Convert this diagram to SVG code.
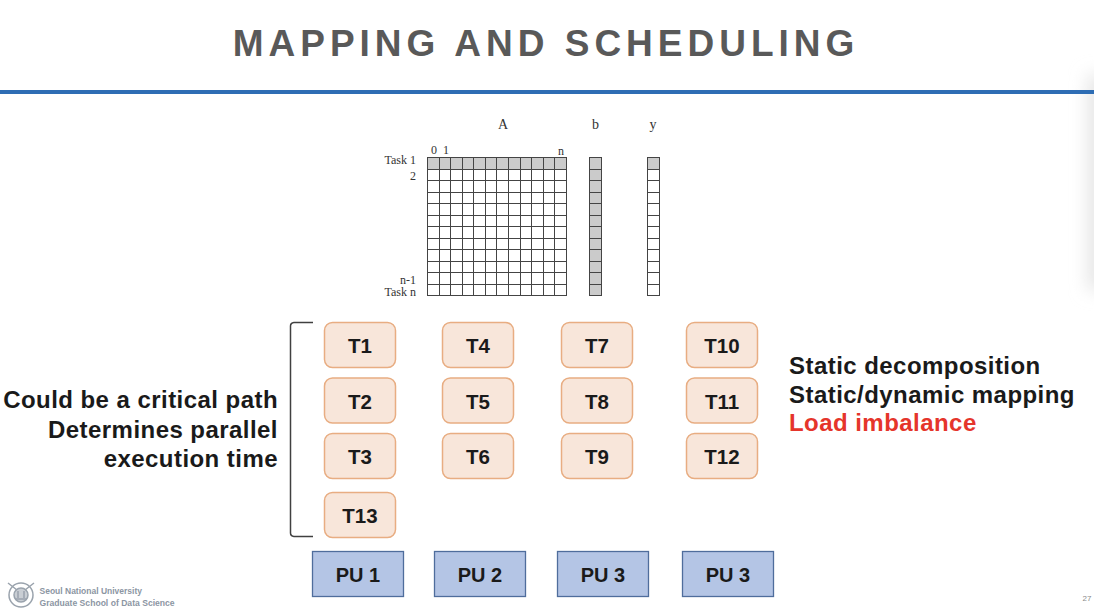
<svg xmlns="http://www.w3.org/2000/svg" width="1094" height="608" viewBox="0 0 1094 608">
<style>
.s{font-family:"Liberation Sans",Arial,sans-serif}
.m{font-family:"Liberation Serif","Times New Roman",serif;font-size:12px;fill:#333}
.t rect{fill:#f8e6da;stroke:#e8ad82;stroke-width:1.5}
.t text,.p text{font-family:"Liberation Sans",Arial,sans-serif;font-weight:700;fill:#1a1a1a;text-anchor:middle}
.t text{font-size:20.500px}
.p text{font-size:20px}
.p rect{fill:#b4c5e5;stroke:#4f6d9c;stroke-width:1.300}
.l{font-family:"Liberation Sans",Arial,sans-serif;font-weight:700;font-size:24px;letter-spacing:.45px;fill:#1a1a1a}
.g{stroke:#444;stroke-width:1;fill:none}
.sh{fill:#cbcbcb}
</style>
<defs>
<filter id="soft" x="-100%" y="-20%" width="300%" height="140%"><feGaussianBlur stdDeviation="9"/></filter>
</defs>
<rect width="1094" height="608" fill="#fff"/>
<rect x="1088" y="75" width="20" height="215" fill="#e4e4e4" filter="url(#soft)"/>
<text class="s" x="546" y="56" font-size="37" font-weight="700" fill="#595959" text-anchor="middle" letter-spacing="5">MAPPING AND SCHEDULING</text>
<rect x="0" y="90" width="1094" height="4" fill="#2e6db4"/>

<g id="matrix">
<text class="m" x="503" y="129" text-anchor="middle" font-size="14" style="font-size:14px">A</text>
<text class="m" x="595.500" y="129" text-anchor="middle" style="font-size:14px">b</text>
<text class="m" x="653" y="129" text-anchor="middle" style="font-size:14px">y</text>
<text class="m" x="431" y="154">0</text><text class="m" x="443" y="154">1</text><text class="m" x="561" y="155" text-anchor="middle">n</text>
<text class="m" x="416" y="164" text-anchor="end">Task 1</text>
<text class="m" x="416" y="180" text-anchor="end">2</text>
<text class="m" x="416" y="284" text-anchor="end">n-1</text>
<text class="m" x="416" y="296" text-anchor="end">Task n</text>
<rect class="sh" x="428" y="157" width="139" height="12"/>
<rect class="sh" x="589.500" y="157" width="12" height="139"/>
<rect class="sh" x="647.500" y="157" width="12" height="12"/>
<path class="g" d="M427.500 157.500H566.500M427.500 169.500H566.500M427.500 180.500H566.500M427.500 192.500H566.500M427.500 203.500H566.500M427.500 215.500H566.500M427.500 226.500H566.500M427.500 238.500H566.500M427.500 249.500H566.500M427.500 261.500H566.500M427.500 272.500H566.500M427.500 284.500H566.500M427.500 295.500H566.500M427.500 157V296M439.500 157V296M450.500 157V296M462.500 157V296M473.500 157V296M485.500 157V296M496.500 157V296M508.500 157V296M520.500 157V296M531.500 157V296M543.500 157V296M554.500 157V296M566.500 157V296"/>
<path class="g" d="M589.500 157V296M601.500 157V296M589.500 157.500H601.500M589.500 169.500H601.500M589.500 180.500H601.500M589.500 192.500H601.500M589.500 203.500H601.500M589.500 215.500H601.500M589.500 226.500H601.500M589.500 238.500H601.500M589.500 249.500H601.500M589.500 261.500H601.500M589.500 272.500H601.500M589.500 284.500H601.500M589.500 295.500H601.500"/>
<path class="g" d="M647.500 157V296M659.500 157V296M647.500 157.500H659.500M647.500 169.500H659.500M647.500 180.500H659.500M647.500 192.500H659.500M647.500 203.500H659.500M647.500 215.500H659.500M647.500 226.500H659.500M647.500 238.500H659.500M647.500 249.500H659.500M647.500 261.500H659.500M647.500 272.500H659.500M647.500 284.500H659.500M647.500 295.500H659.500"/>
</g>

<g id="connectors"><path id="brace" d="M313 322.500H294Q290.500 323 290.500 326V533Q290.500 536 294 536.500H313" fill="none" stroke="#404040" stroke-width="1.500"/></g>

<g id="T1" class="t"><rect x="324.500" y="322.500" width="71" height="45" rx="8"/><text x="360" y="353">T1</text></g>
<g id="T2" class="t"><rect x="324.500" y="378" width="71" height="45" rx="8"/><text x="360" y="408.500">T2</text></g>
<g id="T3" class="t"><rect x="324.500" y="433.500" width="71" height="45" rx="8"/><text x="360" y="464">T3</text></g>
<g id="T13" class="t"><rect x="324.500" y="492.500" width="71" height="45" rx="8"/><text x="360" y="523">T13</text></g>
<g id="T4" class="t"><rect x="442.500" y="322.500" width="71" height="45" rx="8"/><text x="478" y="353">T4</text></g>
<g id="T5" class="t"><rect x="442.500" y="378" width="71" height="45" rx="8"/><text x="478" y="408.500">T5</text></g>
<g id="T6" class="t"><rect x="442.500" y="433.500" width="71" height="45" rx="8"/><text x="478" y="464">T6</text></g>
<g id="T7" class="t"><rect x="561.500" y="322.500" width="71" height="45" rx="8"/><text x="597" y="353">T7</text></g>
<g id="T8" class="t"><rect x="561.500" y="378" width="71" height="45" rx="8"/><text x="597" y="408.500">T8</text></g>
<g id="T9" class="t"><rect x="561.500" y="433.500" width="71" height="45" rx="8"/><text x="597" y="464">T9</text></g>
<g id="T10" class="t"><rect x="686.500" y="322.500" width="71" height="45" rx="8"/><text x="722" y="353">T10</text></g>
<g id="T11" class="t"><rect x="686.500" y="378" width="71" height="45" rx="8"/><text x="722" y="408.500">T11</text></g>
<g id="T12" class="t"><rect x="686.500" y="433.500" width="71" height="45" rx="8"/><text x="722" y="464">T12</text></g>

<g id="PU1" class="p"><rect x="312.500" y="551.500" width="91" height="45"/><text x="358" y="582">PU 1</text></g>
<g id="PU2" class="p"><rect x="434.500" y="551.500" width="91" height="45"/><text x="480" y="582">PU 2</text></g>
<g id="PU3a" class="p"><rect x="557.500" y="551.500" width="91" height="45"/><text x="603" y="582">PU 3</text></g>
<g id="PU3b" class="p"><rect x="682.500" y="551.500" width="91" height="45"/><text x="728" y="582">PU 3</text></g>

<g id="left-notes" text-anchor="end">
<text class="l" x="278" y="408">Could be a critical path</text>
<text class="l" x="278" y="438">Determines parallel</text>
<text class="l" x="278" y="467">execution time</text>
</g>
<g id="right-notes">
<text class="l" x="789" y="374">Static decomposition</text>
<text class="l" x="789" y="403">Static/dynamic mapping</text>
<text class="l" x="789" y="431" style="fill:#e5352b">Load imbalance</text>
</g>

<g id="footer">
<g fill="none" stroke="#9aa3ad" stroke-width="1.500"><circle cx="21" cy="595" r="12"/><circle cx="21" cy="595" r="7" fill="#c9ced4"/><path d="M8 583L17 590M34 583L25 590M15 599H27M18 591V598M24 591V598"/></g>
<text class="s" x="39.500" y="593.500" font-size="8.500" font-weight="700" fill="#8c96a3">Seoul National University</text>
<text class="s" x="39.500" y="606" font-size="8.600" font-weight="700" fill="#8c96a3">Graduate School of Data Science</text>
<text class="s" x="1087" y="601" font-size="8" fill="#8a8a8a" text-anchor="middle">27</text>
</g>
</svg>
